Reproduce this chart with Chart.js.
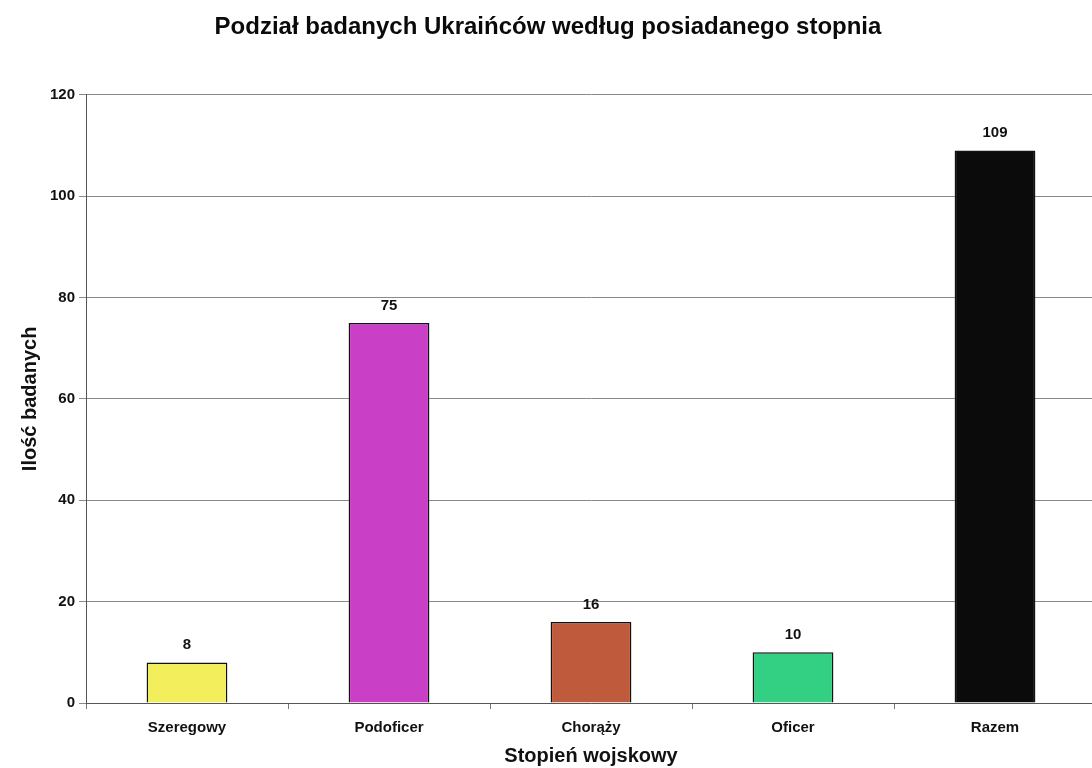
<!DOCTYPE html>
<html>
<head>
    <title>Podział badanych Ukraińców</title>
    <script src="https://cdn.jsdelivr.net/npm/chart.js"></script>
    <style>
        body { margin: 0; overflow: hidden; background: #fff; }
    </style>
</head>
<body>
    <canvas id="stopnieChart" width="1100" height="768"></canvas>
    <script>
        const categories = ['Szeregowy', 'Podoficer', 'Chorąży', 'Oficer', 'Razem'];
        const counts = [8, 75, 16, 10, 109];
        const barColors = ['#f3ee5c', '#c93fc6', '#c05a3c', '#33cf83', '#0b0b0b'];
        const yTicks = [0, 20, 40, 60, 80, 100, 120];

        const FONT = 'Arial, "Liberation Sans", sans-serif';

        // etykiety wartości nad słupkami
        const valueLabels = {
            id: 'valueLabels',
            afterDatasetsDraw(chart) {
                const ctx = chart.ctx;
                ctx.save();
                ctx.font = 'bold 15px ' + FONT;
                ctx.fillStyle = '#111';
                ctx.textAlign = 'center';
                ctx.textBaseline = 'bottom';
                chart.getDatasetMeta(0).data.forEach((bar, i) => {
                    ctx.fillText(String(counts[i]), bar.x, bar.y - 10);
                });
                ctx.restore();
            }
        };

        const ctx = document.getElementById('stopnieChart').getContext('2d');
        new Chart(ctx, {
            type: 'bar',
            data: {
                labels: categories,
                datasets: [{
                    data: counts,
                    backgroundColor: barColors,
                    borderColor: '#111',
                    borderWidth: 1.5,
                    barPercentage: 0.4,
                    categoryPercentage: 1
                }]
            },
            options: {
                responsive: false,
                animation: false,
                layout: { padding: { left: 0, right: 4, top: 0, bottom: 0 } },
                plugins: {
                    legend: { display: false },
                    tooltip: { enabled: false },
                    title: {
                        display: true,
                        text: 'Podział badanych Ukraińców według posiadanego stopnia',
                        color: '#0a0a0a',
                        font: { family: FONT, size: 24, weight: 'bold' },
                        padding: { top: 13, bottom: 53 }
                    }
                },
                scales: {
                    x: {
                        grid: {
                            display: true,
                            drawOnChartArea: false,
                            drawTicks: true,
                            tickLength: 6,
                            color: '#777'
                        },
                        border: { color: '#555', width: 1 },
                        ticks: {
                            color: '#111',
                            padding: 10,
                            font: { family: FONT, size: 15, weight: 'bold' }
                        },
                        title: {
                            display: true,
                            text: 'Stopień wojskowy',
                            color: '#111',
                            font: { family: FONT, size: 20, weight: 'bold' },
                            padding: { top: 0, bottom: 0 }
                        },
                        afterFit: scale => { scale.height = 65; }
                    },
                    y: {
                        min: 0,
                        max: 120,
                        afterBuildTicks: scale => { scale.ticks = yTicks.map(v => ({ value: v })); },
                        grid: {
                            color: '#8a8a8a',
                            lineWidth: 1,
                            tickLength: 7
                        },
                        border: { color: '#555', width: 1 },
                        ticks: {
                            color: '#111',
                            padding: 4,
                            font: { family: FONT, size: 15, weight: 'bold' }
                        },
                        title: {
                            display: true,
                            text: 'Ilość badanych',
                            color: '#111',
                            font: { family: FONT, size: 20, weight: 'bold' },
                            padding: { top: 18, bottom: 0 }
                        },
                        afterFit: scale => { scale.width = 86; }
                    }
                }
            },
            plugins: [valueLabels]
        });
    </script>
</body>
</html>
